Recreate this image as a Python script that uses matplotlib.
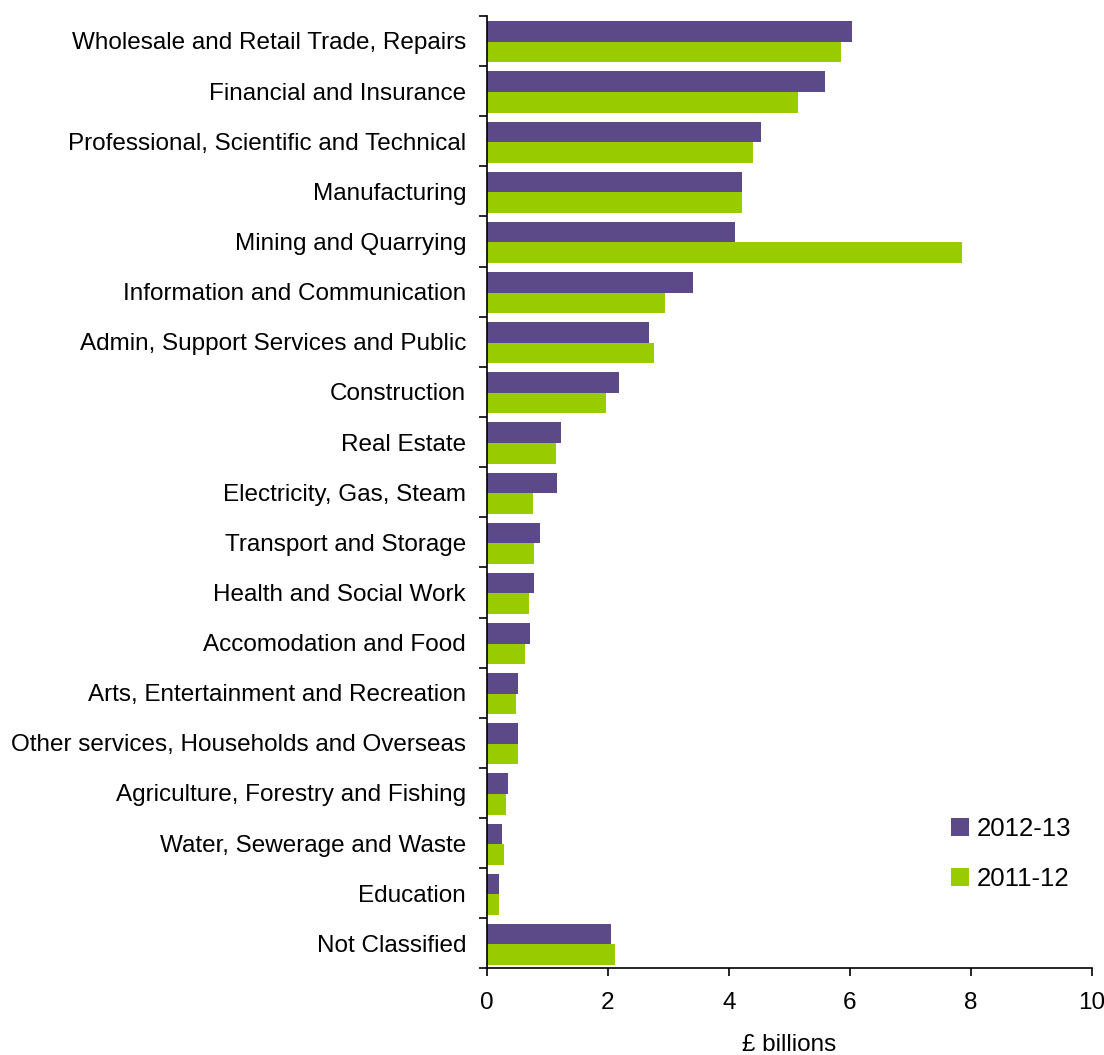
import numpy as np
import matplotlib
matplotlib.use("Agg")
import matplotlib.pyplot as plt

plt.rcParams['font.family'] = ['Liberation Sans', 'DejaVu Sans']

sectors = [
    "Wholesale and Retail Trade, Repairs",
    "Financial and Insurance",
    "Professional, Scientific and Technical",
    "Manufacturing",
    "Mining and Quarrying",
    "Information and Communication",
    "Admin, Support Services and Public",
    "Construction",
    "Real Estate",
    "Electricity, Gas, Steam",
    "Transport and Storage",
    "Health and Social Work",
    "Accomodation and Food",
    "Arts, Entertainment and Recreation",
    "Other services, Households and Overseas",
    "Agriculture, Forestry and Fishing",
    "Water, Sewerage and Waste",
    "Education",
    "Not Classified",
]
val_2012_13 = [6.04, 5.59, 4.53, 4.22, 4.10, 3.41, 2.68, 2.19, 1.23, 1.16,
               0.88, 0.78, 0.72, 0.52, 0.52, 0.35, 0.25, 0.20, 2.05]
val_2011_12 = [5.86, 5.15, 4.40, 4.22, 7.86, 2.95, 2.77, 1.97, 1.15, 0.77,
               0.78, 0.70, 0.63, 0.48, 0.52, 0.32, 0.29, 0.20, 2.12]

cor_roxo = "#5b4a87"
cor_verde = "#99cc00"

fig = plt.figure(figsize=(11.04, 10.55), dpi=100)
ax = fig.add_axes([0.441, 0.082, 0.548, 0.903])

n = len(sectors)
pos = np.arange(n)
h = 0.41

ax.barh(pos - h / 2 + 0.02, val_2012_13, height=h, color=cor_roxo, label="2012-13")
ax.barh(pos + h / 2 + 0.02, val_2011_12, height=h, color=cor_verde, label="2011-12")

ax.set_ylim(n - 0.5, -0.5)
ax.set_xlim(0, 10)
ax.set_xticks([0, 2, 4, 6, 8, 10])

# rotulos no centro, marcas entre as categorias
ax.set_yticks(pos)
ax.set_yticklabels(sectors, fontsize=17.5)
ax.tick_params(axis='y', which='major', length=0, pad=15)
ax.set_yticks(np.arange(-0.5, n, 1.0), minor=True)
ax.tick_params(axis='y', which='minor', length=6, width=1.2, direction='out')
ax.tick_params(axis='x', length=6, width=1.2, labelsize=17.5, pad=11)

ax.spines['top'].set_visible(False)
ax.spines['right'].set_visible(False)
ax.spines['left'].set_linewidth(1.2)
ax.spines['bottom'].set_linewidth(1.2)

ax.set_xlabel("£ billions", fontsize=17.5, labelpad=14)

ax.legend(loc='upper left', bbox_to_anchor=(0.768, 0.159), frameon=False,
          fontsize=18.5, handlelength=0.7, handleheight=0.7, handletextpad=0.3,
          labelspacing=1.0, borderaxespad=0, borderpad=0)

fig.savefig("out.png", dpi=100)
